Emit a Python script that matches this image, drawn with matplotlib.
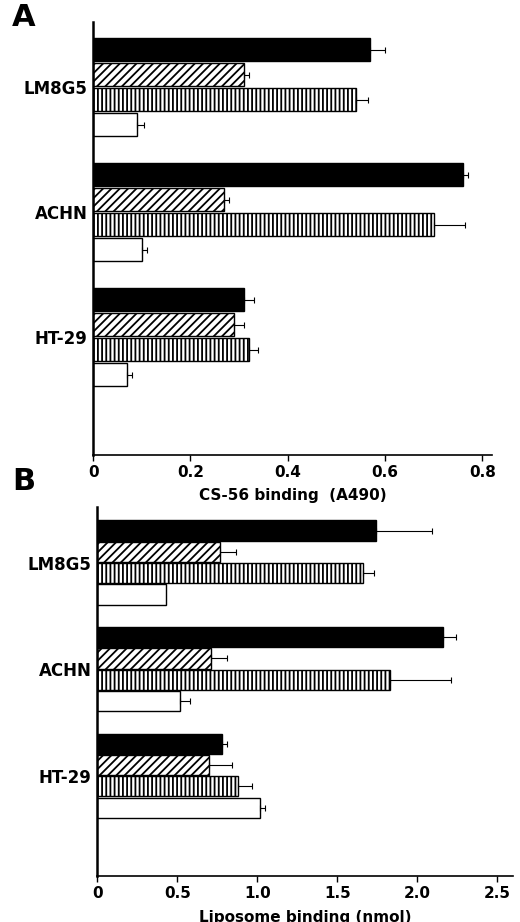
import matplotlib
matplotlib.use("Agg")
import matplotlib.pyplot as plt
import numpy as np

cells = ["LM8G5", "ACHN", "HT-29"]
a_vals = [[0.57, 0.31, 0.54, 0.09], [0.76, 0.27, 0.70, 0.10], [0.31, 0.29, 0.32, 0.07]]
a_err = [[0.03, 0.01, 0.025, 0.015], [0.01, 0.01, 0.065, 0.01], [0.02, 0.02, 0.02, 0.01]]
b_vals = [[1.74, 0.77, 1.66, 0.43], [2.16, 0.71, 1.83, 0.52], [0.78, 0.70, 0.88, 1.02]]
b_err = [[0.35, 0.10, 0.07, 0.0], [0.08, 0.10, 0.38, 0.06], [0.03, 0.14, 0.09, 0.03]]

styles = [dict(color="black", hatch=None), dict(color="white", hatch="////"),
          dict(color="white", hatch="||||"), dict(color="white", hatch=None)]

plt.rcParams['hatch.linewidth'] = 1.3
fig = plt.figure(figsize=(5.2, 9.22), dpi=100)

def panel(rect, vals, errs, xlim, ticks, ticklabels, xlabel, letter, letter_y):
    ax = fig.add_axes(rect)
    gstart = [0, 5, 10]
    for g in range(3):
        for k in range(4):
            y = gstart[g] + k
            st = styles[k]
            ax.barh(y, vals[g][k], height=0.95, color=st["color"], edgecolor="black",
                    hatch=st["hatch"], linewidth=1)
            if errs[g][k] > 0:
                ax.errorbar(vals[g][k], y, xerr=[[0], [errs[g][k]]], fmt="none",
                            ecolor="black", elinewidth=0.8, capsize=2.5, capthick=0.8)
    ax.set_yticks([s + 1.5 for s in gstart])
    ax.set_yticklabels(cells, fontsize=12, fontweight="bold")
    ax.tick_params(axis="y", length=0, pad=4)
    ax.set_ylim(16.2, -1.1)
    ax.set_xlim(*xlim)
    ax.set_xticks(ticks)
    ax.set_xticklabels(ticklabels, fontsize=11, fontweight="bold")
    ax.tick_params(axis="x", direction="out", length=4, width=1)
    ax.set_xlabel(xlabel, fontsize=11, fontweight="bold", labelpad=6)
    ax.spines["top"].set_visible(False)
    ax.spines["right"].set_visible(False)
    ax.spines["left"].set_linewidth(1.8)
    ax.spines["bottom"].set_linewidth(1.2)
    fig.text(0.023, letter_y, letter, fontsize=22, fontweight="bold", va="top")
    return ax

panel([0.179, 0.507, 0.767, 0.469], a_vals, a_err, (0, 0.82),
      [0, 0.2, 0.4, 0.6, 0.8], ["0", "0.2", "0.4", "0.6", "0.8"], "CS-56 binding  (A490)", "A", 0.997)
panel([0.187, 0.05, 0.80, 0.40], b_vals, b_err, (0, 2.6),
      [0, 0.5, 1, 1.5, 2, 2.5], ["0", "0.5", "1.0", "1.5", "2.0", "2.5"], "Liposome binding (nmol)", "B", 0.493)

fig.savefig("out.png", dpi=100)
